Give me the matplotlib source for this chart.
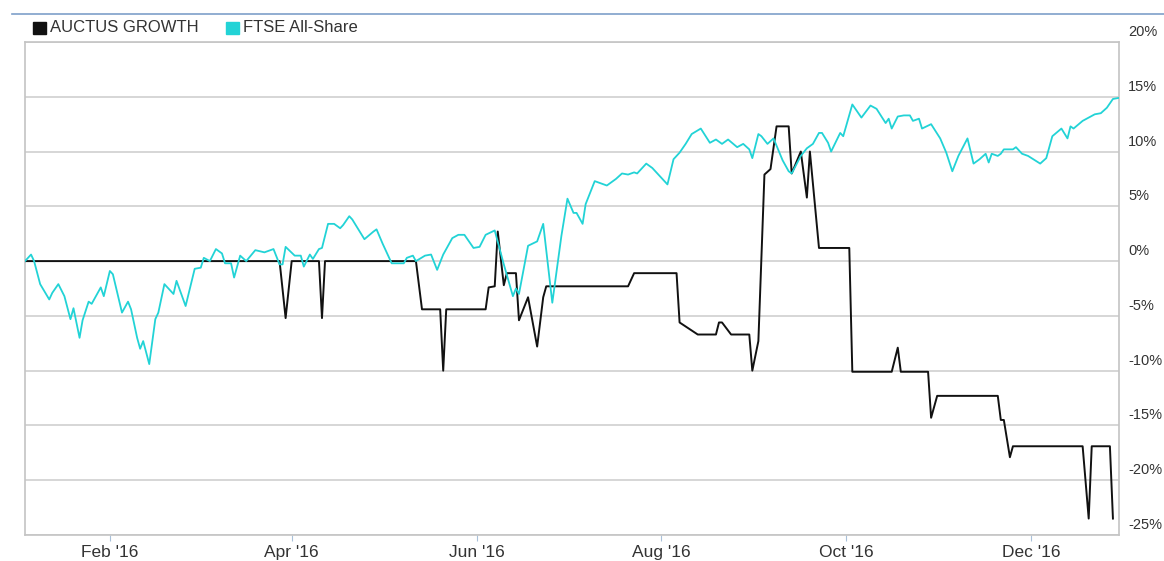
import numpy as np
import matplotlib
matplotlib.use('Agg')
import matplotlib.pyplot as plt
import matplotlib.dates as mdates
import matplotlib.transforms as mtrans
from matplotlib.patches import Rectangle
from matplotlib.lines import Line2D

plt.rcParams['font.family'] = ['Liberation Sans', 'DejaVu Sans']

# days counted from 1 Jan 2016, values in %
ftse_day = [3, 5, 6, 8, 11, 12, 14, 16, 18, 19, 21, 22, 24, 25, 28, 29, 31, 32, 35, 37,
            38, 40, 41, 42, 44, 46, 47, 49, 52, 53, 56, 59, 61, 62, 64, 66, 68, 69, 71, 72,
            74, 76, 79, 82, 85, 87, 88, 89, 92, 94,
            95, 97, 98, 100, 101, 103, 105, 107, 108, 110, 111, 115, 118, 119, 121, 124, 126, 128, 129, 131,
            132, 135, 137, 139, 141, 144, 146, 148, 151, 153, 155, 158, 161, 164, 165, 166, 169, 172, 174, 177,
            180, 182, 184, 185, 187, 188, 191, 194, 195, 198, 200, 202, 204, 205, 208, 210, 213, 215, 217, 219,
            221, 223, 226, 229, 231, 233, 235, 238, 240, 242, 243, 245, 246, 248, 250, 253, 255, 256, 259, 261,
            263, 265, 266, 268, 269, 272, 273, 276, 279, 282, 284, 287, 288, 289, 291, 293, 295, 296, 298, 299,
            302, 305, 307, 309, 311, 314, 316, 318, 320, 321, 322, 324, 325, 326, 329, 330, 332, 334, 338, 340,
            342, 345, 347, 348, 349, 352, 354, 356, 358, 360, 362, 364]
ftse_val = [0, 0.6, 0, -2.1, -3.5, -2.9, -2.1, -3.2, -5.3, -4.3, -7.0, -5.4, -3.7, -3.9, -2.4, -3.2, -0.9, -1.2, -4.7, -3.7,
            -4.4, -7.0, -8.0, -7.3, -9.4, -5.3, -4.7, -2.1, -3.0, -1.8, -4.1, -0.7, -0.6, 0.3, 0, 1.1, 0.7, -0.2, -0.2, -1.5,
            0.5, 0, 1.0, 0.8, 1.1, -0.3, -0.3, 1.3, 0.5, 0.5,
            -0.5, 0.6, 0.2, 1.1, 1.2, 3.4, 3.4, 3.0, 3.3, 4.1, 3.8, 2.0, 2.7, 2.9, 1.6, -0.2, -0.2, -0.2, 0.3, 0.5,
            0, 0.5, 0.6, -0.8, 0.6, 2.1, 2.4, 2.4, 1.2, 1.3, 2.4, 2.8, -0.3, -3.2, -2.5, -3.0, 1.4, 1.8, 3.4, -3.8,
            2.3, 5.7, 4.4, 4.4, 3.4, 5.2, 7.3, 7.0, 6.9, 7.5, 8.0, 7.9, 8.1, 8.0, 8.9, 8.5, 7.6, 7.0, 9.3, 9.9,
            10.7, 11.6, 12.1, 10.8, 11.1, 10.7, 11.1, 10.4, 10.7, 10.2, 9.4, 11.6, 11.4, 10.7, 11.2, 9.2, 8.2, 8.0, 9.6, 10.3,
            10.7, 11.7, 11.7, 10.8, 10.0, 11.7, 11.4, 14.3, 13.1, 14.2, 13.9, 12.6, 13.0, 12.1, 13.2, 13.3, 13.3, 12.8, 13.0, 12.1,
            12.5, 11.2, 9.9, 8.2, 9.6, 11.2, 8.9, 9.3, 9.8, 9.0, 9.8, 9.6, 9.8, 10.2, 10.2, 10.4, 9.8, 9.6, 8.9, 9.4,
            11.4, 12.1, 11.2, 12.3, 12.1, 12.8, 13.1, 13.4, 13.5, 14.0, 14.8, 14.9]

auctus_day = [3, 87, 89, 91, 100, 101, 102, 132, 134, 140, 141, 142,
              155, 156, 158, 159, 161, 162, 165, 166, 169, 172, 174, 175,
              202, 204, 218, 219, 225, 231, 232, 233, 236, 242, 243, 245,
              247, 249, 251, 255, 256, 259, 261, 262, 265, 275, 276,
              289, 291, 292, 301, 302, 304, 324, 325, 326, 328, 329,
              352, 354, 355, 361, 362]
auctus_val = [0, 0, -5.2, 0, 0, -5.2, 0, 0, -4.4, -4.4, -10.0, -4.4,
              -4.4, -2.4, -2.3, 2.7, -2.2, -1.1, -1.1, -5.4, -3.3, -7.8, -3.3, -2.3,
              -2.3, -1.1, -1.1, -5.6, -6.7, -6.7, -5.6, -5.6, -6.7, -6.7, -10.0, -7.3,
              7.9, 8.4, 12.3, 12.3, 8.0, 10.0, 5.8, 10.0, 1.2, 1.2, -10.1,
              -10.1, -7.9, -10.1, -10.1, -14.3, -12.3, -12.3, -14.5, -14.5, -17.9, -16.9,
              -16.9, -23.5, -16.9, -16.9, -23.5]

series_names = ['AUCTUS GROWTH', 'FTSE All-Share']
series_colors = ['#111111', '#22d3d6']
y_ticks = [20, 15, 10, 5, 0, -5, -10, -15, -20, -25]
x_tick_dates = ['2016-02-01', '2016-04-01', '2016-06-01', '2016-08-01', '2016-10-01', '2016-12-01']
x_tick_labels = ["Feb '16", "Apr '16", "Jun '16", "Aug '16", "Oct '16", "Dec '16"]

start = np.datetime64('2016-01-01')
ftse_dates = start + np.array(ftse_day).astype('timedelta64[D]')
auctus_dates = start + np.array(auctus_day).astype('timedelta64[D]')

W, H = 1164, 561
fig = plt.figure(figsize=(W / 100, H / 100), dpi=100)
ax = fig.add_axes([25 / W, 26 / H, 1094 / W, 493 / H])

# grid lines
for v in y_ticks:
    ax.axhline(v, color='#cccccc', lw=1.1, zorder=1)

ax.plot(auctus_dates, auctus_val, color=series_colors[0], lw=1.4, zorder=3)
ax.plot(ftse_dates, ftse_val, color=series_colors[1], lw=1.3, zorder=4)

ax.set_ylim(-25, 20)
ax.set_xlim(start + np.timedelta64(3, 'D'), start + np.timedelta64(364, 'D'))

for s in ax.spines.values():
    s.set_color('#c4c4c4')
    s.set_linewidth(1.2)

ax.set_yticks([])
ax.set_xticks([np.datetime64(d) for d in x_tick_dates])
ax.set_xticklabels(x_tick_labels)
ax.tick_params(axis='x', length=4.5, width=0.8, color='#a9c1da', labelsize=12.5,
               labelcolor='#333333', pad=3)

# y labels on the right, sitting a little above the grid lines
off = mtrans.ScaledTranslation(9 / 100, 10 / 100, fig.dpi_scale_trans)
for v in y_ticks:
    ax.text(1.0, v, '{}%'.format(v), transform=ax.get_yaxis_transform() + off,
            ha='left', va='center', fontsize=10.5, color='#333333', clip_on=False)

# thin blue line at the top
fig.add_artist(Line2D([12 / W, 1], [1 - 14 / H, 1 - 14 / H], color='#7e9fc9', lw=1.2))

# legend drawn by hand
leg_x = [33, 226]
text_x = [50, 243]
for i in range(2):
    fig.add_artist(Rectangle((leg_x[i] / W, 1 - 34 / H), 13 / W, 12 / H,
                             color=series_colors[i], transform=fig.transFigure))
    fig.text(text_x[i] / W, 1 - 28 / H, series_names[i], fontsize=12, color='#333333',
             ha='left', va='center')

fig.savefig('out.png', dpi=100)
